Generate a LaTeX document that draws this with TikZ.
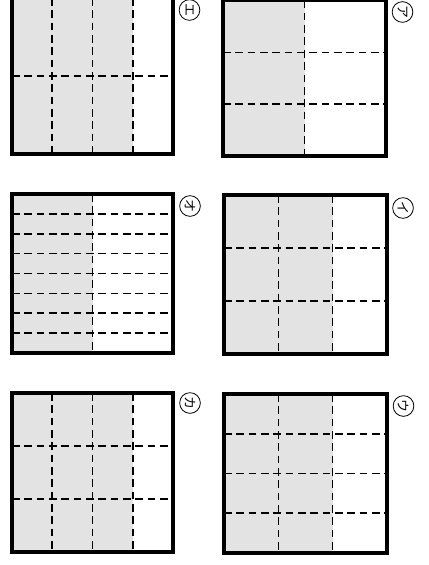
\documentclass[tikz,border=0pt]{standalone}
\usepackage{fontspec}
\newfontfamily\cjk{Noto Sans CJK JP}
\tikzset{
  frame/.style={line width=3pt},
  cut/.style={line width=1.4pt,dash pattern=on 2.3mm off 1.4mm},
  shade/.style={fill=black!11},
  tag/.style={circle,draw,line width=0.7pt,inner sep=0pt,minimum size=0.62cm,
    rotate=-90,font=\cjk\fontsize{11}{11}\selectfont}
}
\begin{document}
\begin{tikzpicture}[x=0.03cm,y=-0.03cm]
  \useasboundingbox (0,0) rectangle (429,565);
  \clip (0,0) rectangle (429,565);
  % panel E: 4 columns x 2 rows, 3 columns shaded
  \fill[shade] (12,-2) rectangle (132.75,154);
  \foreach \i in {1,2,3} \draw[cut] ({12+\i*40.25},-2) -- ({12+\i*40.25},154);
  \draw[cut] (12,76) -- (173,76);
  \draw[frame] (12,-2) rectangle (173,154);
  \node[tag] (labE) at (189.5,10) {エ};
  % panel A: 2 columns x 3 rows, 1 column shaded
  \fill[shade] (223,0.5) rectangle (304.5,156);
  \draw[cut] (304.5,0.5) -- (304.5,156);
  \foreach \j in {1,2} \draw[cut] (223,{0.5+\j*51.83}) -- (386,{0.5+\j*51.83});
  \draw[frame] (223,0.5) rectangle (386,156);
  \node[tag] (labA) at (402.5,12) {ア};
  % panel O: 2 columns x 8 rows, 1 column shaded
  \fill[shade] (12,194) rectangle (92.5,353);
  \draw[cut] (92.5,194) -- (92.5,353);
  \foreach \j in {1,...,7} \draw[cut] (12,{194+\j*19.875}) -- (173,{194+\j*19.875});
  \draw[frame] (12,194) rectangle (173,353);
  \node[tag] (labO) at (190,206) {オ};
  % panel I: 3 columns x 3 rows, 2 columns shaded
  \fill[shade] (224,195) rectangle (332.7,354);
  \foreach \i in {1,2} \draw[cut] ({224+\i*54.33},195) -- ({224+\i*54.33},354);
  \foreach \j in {1,2} \draw[cut] (224,{195+\j*53}) -- (387,{195+\j*53});
  \draw[frame] (224,195) rectangle (387,354);
  \node[tag] (labI) at (403,208) {イ};
  % panel KA: 4 columns x 3 rows, 3 columns shaded
  \fill[shade] (12,393) rectangle (132.75,552);
  \foreach \i in {1,2,3} \draw[cut] ({12+\i*40.25},393) -- ({12+\i*40.25},552);
  \foreach \j in {1,2} \draw[cut] (12,{393+\j*53}) -- (173,{393+\j*53});
  \draw[frame] (12,393) rectangle (173,552);
  \node[tag] (labKa) at (190,403) {カ};
  % panel U: 3 columns x 4 rows, 2 columns shaded
  \fill[shade] (224,394) rectangle (332.7,553);
  \foreach \i in {1,2} \draw[cut] ({224+\i*54.33},394) -- ({224+\i*54.33},553);
  \foreach \j in {1,2,3} \draw[cut] (224,{394+\j*39.75}) -- (387,{394+\j*39.75});
  \draw[frame] (224,394) rectangle (387,553);
  \node[tag] (labU) at (403.5,406) {ウ};
\end{tikzpicture}
\end{document}
